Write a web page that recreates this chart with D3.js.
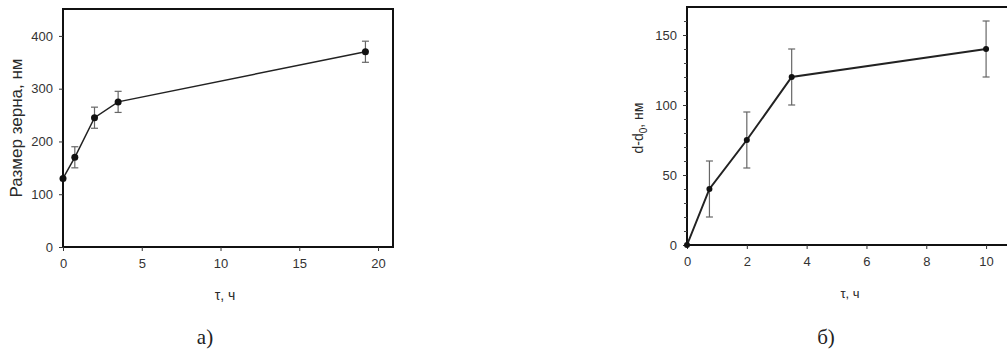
<!DOCTYPE html>
<html>
<head>
<meta charset="utf-8">
<script src="https://cdn.jsdelivr.net/npm/d3@7"></script>
<style>
  body { margin: 0; background: #fff; }
  .tick text { font-family: "Liberation Sans", Arial, sans-serif; fill: #333; }
  .caption { font-family: "Liberation Serif", serif; font-size: 21px; fill: #222; }
  .axisText { font-family: "Liberation Sans", Arial, sans-serif; fill: #2a2a2a; }
</style>
</head>
<body>
<script>
// Panel a: grain size vs time
var timeA = [0, 0.75, 2, 3.5, 19.2];
var sizeA = [130, 170, 245, 275, 370];
var errA = [0, 20, 20, 20, 20];
var ticksAx = [0, 5, 10, 15, 20];
var ticksAy = [0, 100, 200, 300, 400];

// Panel b: d - d0 vs time
var timeB = [0, 0.75, 2, 3.5, 10];
var deltaB = [0, 40, 75, 120, 140];
var errB = [0, 20, 20, 20, 20];
var ticksBx = [0, 2, 4, 6, 8, 10];
var ticksBy = [0, 50, 100, 150];
var minorBy = [10, 20, 30, 40, 60, 70, 80, 90, 110, 120, 130, 140, 160];

var svg = d3.select("body")
    .append("svg")
    .attr("width", 1007)
    .attr("height", 352);

function drawPanel(opt) {
    var g = svg.append("g");

    var x = d3.scaleLinear().domain(opt.xDomain).range([opt.left, opt.right]);
    var y = d3.scaleLinear().domain(opt.yDomain).range([opt.bottom, opt.top]);

    // frame
    g.append("rect")
        .attr("x", opt.left)
        .attr("y", opt.top)
        .attr("width", opt.right - opt.left)
        .attr("height", opt.bottom - opt.top)
        .attr("fill", "none")
        .attr("stroke", "#111")
        .attr("stroke-width", 2);

    // axes
    var xAxis = g.append("g")
        .attr("transform", `translate(0, ${opt.bottom})`)
        .call(d3.axisBottom(x).tickValues(opt.xTicks).tickSize(4).tickPadding(8));
    var yAxis = g.append("g")
        .attr("transform", `translate(${opt.left}, 0)`)
        .call(d3.axisLeft(y).tickValues(opt.yTicks).tickSize(4).tickPadding(6));

    if (opt.yMinor) {
        g.append("g")
            .attr("transform", `translate(${opt.left}, 0)`)
            .call(d3.axisLeft(y).tickValues(opt.yMinor).tickSize(3).tickFormat(""))
            .call(a => a.select(".domain").remove())
            .selectAll("line").attr("stroke", "#444");
    }

    [xAxis, yAxis].forEach(function (a) {
        a.select(".domain").remove();
        a.selectAll("line").attr("stroke", "#333");
        a.selectAll("text").attr("font-size", opt.tickFont);
    });

    var pts = opt.xs.map((d, i) => ({ x: d, y: opt.ys[i], e: opt.errs[i] }));

    // error bars
    var eb = g.selectAll(null)
        .data(pts.filter(d => d.e > 0))
        .enter()
        .append("g")
        .attr("stroke", "#666")
        .attr("stroke-width", 1.2);
    eb.append("line")
        .attr("x1", d => x(d.x)).attr("x2", d => x(d.x))
        .attr("y1", d => y(d.y - d.e)).attr("y2", d => y(d.y + d.e));
    eb.append("line")
        .attr("x1", d => x(d.x) - 3.5).attr("x2", d => x(d.x) + 3.5)
        .attr("y1", d => y(d.y - d.e)).attr("y2", d => y(d.y - d.e));
    eb.append("line")
        .attr("x1", d => x(d.x) - 3.5).attr("x2", d => x(d.x) + 3.5)
        .attr("y1", d => y(d.y + d.e)).attr("y2", d => y(d.y + d.e));

    // line
    g.append("path")
        .datum(pts)
        .attr("fill", "none")
        .attr("stroke", "#222")
        .attr("stroke-width", opt.lineWidth)
        .attr("d", d3.line().x(d => x(d.x)).y(d => y(d.y)));

    // markers
    g.selectAll(null)
        .data(pts)
        .enter()
        .append("circle")
        .attr("cx", d => x(d.x))
        .attr("cy", d => y(d.y))
        .attr("r", opt.r)
        .attr("fill", "#111");

    return { x: x, y: y, g: g };
}

// Panel a
var pa = drawPanel({
    left: 63, right: 393, top: 9, bottom: 247,
    xDomain: [0, 20.95], yDomain: [0, 451],
    xTicks: ticksAx, yTicks: ticksAy,
    xs: timeA, ys: sizeA, errs: errA,
    tickFont: 13, lineWidth: 1.5, r: 3.5
});

pa.g.append("text")
    .attr("class", "axisText")
    .attr("transform", "translate(22, 128) rotate(-90)")
    .attr("text-anchor", "middle")
    .attr("font-size", 17)
    .text("Размер зерна, нм");

pa.g.append("text")
    .attr("class", "axisText")
    .attr("x", 225).attr("y", 300)
    .attr("text-anchor", "middle")
    .attr("font-size", 14)
    .text("τ, ч");

svg.append("text")
    .attr("class", "caption")
    .attr("x", 205).attr("y", 344)
    .attr("text-anchor", "middle")
    .text("а)");

// Panel b
var pb = drawPanel({
    left: 687, right: 1016, top: 7, bottom: 245,
    xDomain: [0, 11], yDomain: [0, 170],
    xTicks: ticksBx, yTicks: ticksBy, yMinor: minorBy,
    xs: timeB, ys: deltaB, errs: errB,
    tickFont: 13, lineWidth: 2, r: 3
});

var lb = pb.g.append("text")
    .attr("class", "axisText")
    .attr("transform", "translate(643, 128) rotate(-90)")
    .attr("text-anchor", "middle")
    .attr("font-size", 14);
lb.append("tspan").text("d-d");
lb.append("tspan").attr("font-size", 10).attr("dy", 4).text("0");
lb.append("tspan").attr("dy", -4).text(", нм");

pb.g.append("text")
    .attr("class", "axisText")
    .attr("x", 850).attr("y", 298)
    .attr("text-anchor", "middle")
    .attr("font-size", 13)
    .text("τ, ч");

svg.append("text")
    .attr("class", "caption")
    .attr("x", 826).attr("y", 344)
    .attr("text-anchor", "middle")
    .text("б)");
</script>
</body>
</html>
